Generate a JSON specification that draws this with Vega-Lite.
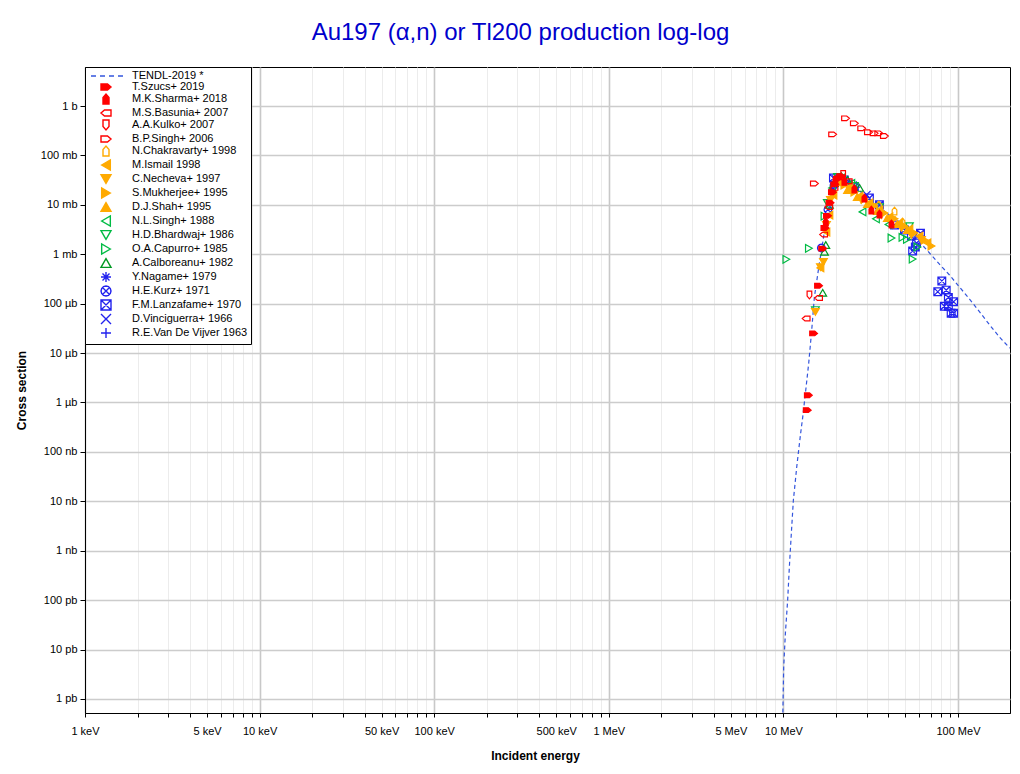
{
  "$schema": "https://vega.github.io/schema/vega-lite/v6.json",
  "width": 925,
  "height": 646,
  "autosize": {"type": "none"},
  "padding": {"left": 85, "top": 67, "right": 10, "bottom": 61},
  "background": "white",
  "title": {"text": "Au197 (α,n) or Tl200 production log-log", "font": "Liberation Sans", "fontSize": 24, "fontWeight": "normal", "color": "#0000cc", "offset": 22, "dx": -27},
  "config": {
    "view": {"stroke": "#000000", "strokeWidth": 1},
    "axis": {"labelFont": "Liberation Sans", "titleFont": "Liberation Sans", "labelFontSize": 11, "titleFontSize": 12, "titleFontWeight": "bold", "labelColor": "#000000", "titleColor": "#000000", "tickColor": "#000000", "domainColor": "#000000"}
  },
  "data": {"values": [
    {"s": "TENDL-2019 *", "e": 9.9, "v": 2e-13},
    {"s": "TENDL-2019 *", "e": 9.93, "v": 5.2e-13},
    {"s": "TENDL-2019 *", "e": 10.04, "v": 4.4e-12},
    {"s": "TENDL-2019 *", "e": 10.27, "v": 2.15e-11},
    {"s": "TENDL-2019 *", "e": 10.58, "v": 1.0e-10},
    {"s": "TENDL-2019 *", "e": 10.82, "v": 4.7e-10},
    {"s": "TENDL-2019 *", "e": 11.11, "v": 2.3e-9},
    {"s": "TENDL-2019 *", "e": 11.41, "v": 1.06e-8},
    {"s": "TENDL-2019 *", "e": 11.67, "v": 2.3e-8},
    {"s": "TENDL-2019 *", "e": 11.92, "v": 4.9e-8},
    {"s": "TENDL-2019 *", "e": 12.24, "v": 1.1e-7},
    {"s": "TENDL-2019 *", "e": 12.56, "v": 2.4e-7},
    {"s": "TENDL-2019 *", "e": 12.9, "v": 5.0e-7},
    {"s": "TENDL-2019 *", "e": 13.24, "v": 1.12e-6},
    {"s": "TENDL-2019 *", "e": 13.97, "v": 6.3e-6},
    {"s": "TENDL-2019 *", "e": 14.53, "v": 2.9e-5},
    {"s": "TENDL-2019 *", "e": 15.05, "v": 1.36e-4},
    {"s": "TENDL-2019 *", "e": 16.08, "v": 6.6e-4},
    {"s": "TENDL-2019 *", "e": 16.65, "v": 1.4e-3},
    {"s": "TENDL-2019 *", "e": 17.24, "v": 3.1e-3},
    {"s": "TENDL-2019 *", "e": 17.86, "v": 6.2e-3},
    {"s": "TENDL-2019 *", "e": 18.35, "v": 0.010},
    {"s": "TENDL-2019 *", "e": 19.1, "v": 0.020},
    {"s": "TENDL-2019 *", "e": 19.85, "v": 0.032},
    {"s": "TENDL-2019 *", "e": 20.9, "v": 0.038},
    {"s": "TENDL-2019 *", "e": 22.35, "v": 0.033},
    {"s": "TENDL-2019 *", "e": 23.9, "v": 0.0276},
    {"s": "TENDL-2019 *", "e": 27.3, "v": 0.019},
    {"s": "TENDL-2019 *", "e": 31.1, "v": 0.0131},
    {"s": "TENDL-2019 *", "e": 35.5, "v": 9.0e-3},
    {"s": "TENDL-2019 *", "e": 40.5, "v": 6.2e-3},
    {"s": "TENDL-2019 *", "e": 46.2, "v": 4.3e-3},
    {"s": "TENDL-2019 *", "e": 52.7, "v": 2.8e-3},
    {"s": "TENDL-2019 *", "e": 60.2, "v": 1.77e-3},
    {"s": "TENDL-2019 *", "e": 68.7, "v": 1.06e-3},
    {"s": "TENDL-2019 *", "e": 78.3, "v": 6.3e-4},
    {"s": "TENDL-2019 *", "e": 89.4, "v": 3.8e-4},
    {"s": "TENDL-2019 *", "e": 102, "v": 2.17e-4},
    {"s": "TENDL-2019 *", "e": 116.5, "v": 1.24e-4},
    {"s": "TENDL-2019 *", "e": 133, "v": 6.8e-5},
    {"s": "TENDL-2019 *", "e": 152, "v": 3.7e-5},
    {"s": "TENDL-2019 *", "e": 173, "v": 2.1e-5},
    {"s": "TENDL-2019 *", "e": 198, "v": 1.26e-5},

    {"s": "R.E.Van De Vijver 1963", "e": 26.2, "v": 0.0229},
    {"s": "R.E.Van De Vijver 1963", "e": 19.5, "v": 0.030},
    {"s": "D.Vinciguerra+ 1966", "e": 20.0, "v": 0.033},
    {"s": "D.Vinciguerra+ 1966", "e": 25.0, "v": 0.025},
    {"s": "D.Vinciguerra+ 1966", "e": 30.0, "v": 0.016},
    {"s": "F.M.Lanzafame+ 1970", "e": 19.35, "v": 0.035},
    {"s": "F.M.Lanzafame+ 1970", "e": 22.35, "v": 0.032},
    {"s": "F.M.Lanzafame+ 1970", "e": 25.5, "v": 0.023},
    {"s": "F.M.Lanzafame+ 1970", "e": 31.1, "v": 0.0137},
    {"s": "F.M.Lanzafame+ 1970", "e": 35.5, "v": 0.010},
    {"s": "F.M.Lanzafame+ 1970", "e": 43.3, "v": 3.9e-3},
    {"s": "F.M.Lanzafame+ 1970", "e": 49.4, "v": 3.1e-3},
    {"s": "F.M.Lanzafame+ 1970", "e": 54.1, "v": 2.33e-3},
    {"s": "F.M.Lanzafame+ 1970", "e": 57.9, "v": 1.69e-3},
    {"s": "F.M.Lanzafame+ 1970", "e": 55.0, "v": 1.16e-3},
    {"s": "F.M.Lanzafame+ 1970", "e": 61.0, "v": 2.65e-3},
    {"s": "F.M.Lanzafame+ 1970", "e": 57.0, "v": 1.4e-3},
    {"s": "F.M.Lanzafame+ 1970", "e": 80.8, "v": 2.87e-4},
    {"s": "F.M.Lanzafame+ 1970", "e": 76.6, "v": 1.74e-4},
    {"s": "F.M.Lanzafame+ 1970", "e": 85.6, "v": 1.88e-4},
    {"s": "F.M.Lanzafame+ 1970", "e": 88.1, "v": 1.34e-4},
    {"s": "F.M.Lanzafame+ 1970", "e": 94.4, "v": 1.09e-4},
    {"s": "F.M.Lanzafame+ 1970", "e": 83.5, "v": 8.9e-5},
    {"s": "F.M.Lanzafame+ 1970", "e": 88.1, "v": 8.9e-5},
    {"s": "F.M.Lanzafame+ 1970", "e": 91.4, "v": 6.4e-5},
    {"s": "F.M.Lanzafame+ 1970", "e": 94.4, "v": 6.4e-5},
    {"s": "H.E.Kurz+ 1971", "e": 16.5, "v": 1.34e-3},
    {"s": "H.E.Kurz+ 1971", "e": 18.0, "v": 8e-3},
    {"s": "H.E.Kurz+ 1971", "e": 19.5, "v": 0.025},
    {"s": "H.E.Kurz+ 1971", "e": 21.0, "v": 0.035},
    {"s": "Y.Nagame+ 1979", "e": 19.0, "v": 0.020},
    {"s": "Y.Nagame+ 1979", "e": 21.0, "v": 0.037},
    {"s": "Y.Nagame+ 1979", "e": 24.0, "v": 0.028},
    {"s": "A.Calboreanu+ 1982", "e": 16.8, "v": 1.66e-4},
    {"s": "A.Calboreanu+ 1982", "e": 17.2, "v": 1.12e-3},
    {"s": "A.Calboreanu+ 1982", "e": 17.5, "v": 1.54e-3},
    {"s": "A.Calboreanu+ 1982", "e": 18.35, "v": 0.010},
    {"s": "A.Calboreanu+ 1982", "e": 19.6, "v": 0.0276},
    {"s": "A.Calboreanu+ 1982", "e": 21.5, "v": 0.038},
    {"s": "A.Calboreanu+ 1982", "e": 23.3, "v": 0.032},
    {"s": "A.Calboreanu+ 1982", "e": 27.3, "v": 0.022},
    {"s": "O.A.Capurro+ 1985", "e": 10.4, "v": 7.9e-4},
    {"s": "O.A.Capurro+ 1985", "e": 14.0, "v": 1.32e-3},
    {"s": "O.A.Capurro+ 1985", "e": 17.2, "v": 5.9e-3},
    {"s": "O.A.Capurro+ 1985", "e": 41.6, "v": 2.13e-3},
    {"s": "O.A.Capurro+ 1985", "e": 48.1, "v": 2.2e-3},
    {"s": "O.A.Capurro+ 1985", "e": 51.0, "v": 2.0e-3},
    {"s": "O.A.Capurro+ 1985", "e": 58.6, "v": 1.4e-3},
    {"s": "O.A.Capurro+ 1985", "e": 55.0, "v": 8.0e-4},
    {"s": "H.D.Bhardwaj+ 1986", "e": 15.25, "v": 7.4e-5},
    {"s": "H.D.Bhardwaj+ 1986", "e": 17.86, "v": 0.0109},
    {"s": "H.D.Bhardwaj+ 1986", "e": 20.4, "v": 0.0366},
    {"s": "H.D.Bhardwaj+ 1986", "e": 25.5, "v": 0.024},
    {"s": "H.D.Bhardwaj+ 1986", "e": 35.5, "v": 9.0e-3},
    {"s": "H.D.Bhardwaj+ 1986", "e": 52.7, "v": 3.7e-3},
    {"s": "N.L.Singh+ 1988", "e": 19.0, "v": 0.022},
    {"s": "N.L.Singh+ 1988", "e": 21.5, "v": 0.035},
    {"s": "N.L.Singh+ 1988", "e": 24.5, "v": 0.027},
    {"s": "N.L.Singh+ 1988", "e": 28.4, "v": 7.2e-3},
    {"s": "N.L.Singh+ 1988", "e": 33.9, "v": 5.2e-3},
    {"s": "N.L.Singh+ 1988", "e": 40.0, "v": 4.0e-3},
    {"s": "D.J.Shah+ 1995", "e": 20.4, "v": 0.029},
    {"s": "D.J.Shah+ 1995", "e": 23.3, "v": 0.020},
    {"s": "D.J.Shah+ 1995", "e": 26.5, "v": 0.0144},
    {"s": "D.J.Shah+ 1995", "e": 30.3, "v": 0.0104},
    {"s": "D.J.Shah+ 1995", "e": 34.5, "v": 7.5e-3},
    {"s": "D.J.Shah+ 1995", "e": 39.4, "v": 5.4e-3},
    {"s": "D.J.Shah+ 1995", "e": 45.0, "v": 4.1e-3},
    {"s": "D.J.Shah+ 1995", "e": 51.3, "v": 3.1e-3},
    {"s": "S.Mukherjee+ 1995", "e": 22.35, "v": 0.0252},
    {"s": "S.Mukherjee+ 1995", "e": 25.5, "v": 0.0182},
    {"s": "S.Mukherjee+ 1995", "e": 29.1, "v": 0.0131},
    {"s": "S.Mukherjee+ 1995", "e": 33.2, "v": 9.5e-3},
    {"s": "S.Mukherjee+ 1995", "e": 37.9, "v": 6.8e-3},
    {"s": "S.Mukherjee+ 1995", "e": 43.3, "v": 5.2e-3},
    {"s": "S.Mukherjee+ 1995", "e": 49.4, "v": 3.7e-3},
    {"s": "S.Mukherjee+ 1995", "e": 56.4, "v": 2.7e-3},
    {"s": "S.Mukherjee+ 1995", "e": 64.4, "v": 1.94e-3},
    {"s": "S.Mukherjee+ 1995", "e": 70.5, "v": 1.47e-3},
    {"s": "C.Necheva+ 1997", "e": 15.25, "v": 6.8e-5},
    {"s": "C.Necheva+ 1997", "e": 16.3, "v": 5.5e-4},
    {"s": "C.Necheva+ 1997", "e": 16.96, "v": 7.0e-4},
    {"s": "C.Necheva+ 1997", "e": 17.64, "v": 3.9e-3},
    {"s": "C.Necheva+ 1997", "e": 18.6, "v": 0.0125},
    {"s": "C.Necheva+ 1997", "e": 21.5, "v": 0.0276},
    {"s": "C.Necheva+ 1997", "e": 24.5, "v": 0.020},
    {"s": "C.Necheva+ 1997", "e": 28.0, "v": 0.0125},
    {"s": "C.Necheva+ 1997", "e": 31.9, "v": 9.0e-3},
    {"s": "C.Necheva+ 1997", "e": 36.4, "v": 6.2e-3},
    {"s": "C.Necheva+ 1997", "e": 41.6, "v": 4.9e-3},
    {"s": "C.Necheva+ 1997", "e": 47.5, "v": 3.4e-3},
    {"s": "C.Necheva+ 1997", "e": 54.1, "v": 2.45e-3},
    {"s": "C.Necheva+ 1997", "e": 61.8, "v": 1.94e-3},
    {"s": "M.Ismail 1998", "e": 16.3, "v": 5.3e-4},
    {"s": "M.Ismail 1998", "e": 17.64, "v": 2.8e-3},
    {"s": "M.Ismail 1998", "e": 18.35, "v": 6.2e-3},
    {"s": "M.Ismail 1998", "e": 19.35, "v": 0.0158},
    {"s": "M.Ismail 1998", "e": 20.9, "v": 0.030},
    {"s": "M.Ismail 1998", "e": 23.9, "v": 0.023},
    {"s": "M.Ismail 1998", "e": 27.3, "v": 0.015},
    {"s": "M.Ismail 1998", "e": 31.1, "v": 0.011},
    {"s": "M.Ismail 1998", "e": 35.5, "v": 7.85e-3},
    {"s": "M.Ismail 1998", "e": 40.5, "v": 5.7e-3},
    {"s": "M.Ismail 1998", "e": 46.2, "v": 4.3e-3},
    {"s": "M.Ismail 1998", "e": 52.7, "v": 3.24e-3},
    {"s": "M.Ismail 1998", "e": 60.2, "v": 2.33e-3},
    {"s": "M.Ismail 1998", "e": 66.8, "v": 1.69e-3},
    {"s": "N.Chakravarty+ 1998", "e": 35.2, "v": 9.9e-3},
    {"s": "N.Chakravarty+ 1998", "e": 43.3, "v": 7.5e-3},
    {"s": "N.Chakravarty+ 1998", "e": 48.1, "v": 4.5e-3},
    {"s": "B.P.Singh+ 2006", "e": 15.05, "v": 0.027},
    {"s": "B.P.Singh+ 2006", "e": 19.15, "v": 0.267},
    {"s": "B.P.Singh+ 2006", "e": 22.7, "v": 0.564},
    {"s": "B.P.Singh+ 2006", "e": 25.5, "v": 0.446},
    {"s": "B.P.Singh+ 2006", "e": 28.1, "v": 0.354},
    {"s": "B.P.Singh+ 2006", "e": 30.7, "v": 0.294},
    {"s": "B.P.Singh+ 2006", "e": 33.1, "v": 0.28},
    {"s": "B.P.Singh+ 2006", "e": 35.2, "v": 0.28},
    {"s": "B.P.Singh+ 2006", "e": 37.9, "v": 0.247},
    {"s": "A.A.Kulko+ 2007", "e": 14.1, "v": 1.5e-4},
    {"s": "A.A.Kulko+ 2007", "e": 22.0, "v": 0.041},
    {"s": "M.S.Basunia+ 2007", "e": 13.5, "v": 5.0e-5},
    {"s": "M.S.Basunia+ 2007", "e": 15.9, "v": 1.3e-4},
    {"s": "M.S.Basunia+ 2007", "e": 17.0, "v": 2.5e-3},
    {"s": "M.S.Basunia+ 2007", "e": 18.2, "v": 9e-3},
    {"s": "M.S.Basunia+ 2007", "e": 19.5, "v": 0.022},
    {"s": "M.S.Basunia+ 2007", "e": 21.5, "v": 0.036},
    {"s": "M.S.Basunia+ 2007", "e": 23.5, "v": 0.030},
    {"s": "M.K.Sharma+ 2018", "e": 17.5, "v": 4.5e-3},
    {"s": "M.K.Sharma+ 2018", "e": 19.85, "v": 0.032},
    {"s": "M.K.Sharma+ 2018", "e": 22.35, "v": 0.030},
    {"s": "M.K.Sharma+ 2018", "e": 25.5, "v": 0.021},
    {"s": "M.K.Sharma+ 2018", "e": 29.1, "v": 0.0137},
    {"s": "M.K.Sharma+ 2018", "e": 31.9, "v": 7.85e-3},
    {"s": "M.K.Sharma+ 2018", "e": 35.5, "v": 6.5e-3},
    {"s": "M.K.Sharma+ 2018", "e": 41.6, "v": 4.1e-3},
    {"s": "T.Szucs+ 2019", "e": 13.7, "v": 7.0e-7},
    {"s": "T.Szucs+ 2019", "e": 13.9, "v": 1.4e-6},
    {"s": "T.Szucs+ 2019", "e": 14.9, "v": 2.5e-5},
    {"s": "T.Szucs+ 2019", "e": 15.9, "v": 2.3e-4},
    {"s": "T.Szucs+ 2019", "e": 16.8, "v": 1.3e-3},
    {"s": "T.Szucs+ 2019", "e": 17.3, "v": 3.4e-3},
    {"s": "T.Szucs+ 2019", "e": 17.9, "v": 6.0e-3},
    {"s": "T.Szucs+ 2019", "e": 18.5, "v": 0.011},
    {"s": "T.Szucs+ 2019", "e": 19.1, "v": 0.018},
    {"s": "T.Szucs+ 2019", "e": 19.7, "v": 0.026},
    {"s": "T.Szucs+ 2019", "e": 20.4, "v": 0.034},
    {"s": "T.Szucs+ 2019", "e": 21.3, "v": 0.038}
  ]},
  "layer": [
    {
      "transform": [{"filter": "datum.s === 'TENDL-2019 *'"}],
      "mark": {"type": "line", "strokeDash": [4, 3], "strokeWidth": 1.2, "color": "#3355dd", "clip": true},
      "encoding": {
        "x": {"field": "e", "type": "quantitative", "scale": {"type": "log", "domain": [0.001, 198.6], "nice": false}, "axis": {
          "title": "Incident energy", "titleX": 450, "titlePadding": 14,
          "values": [0.001,0.002,0.003,0.004,0.005,0.006,0.007,0.008,0.009,0.01,0.02,0.03,0.04,0.05,0.06,0.07,0.08,0.09,0.1,0.2,0.3,0.4,0.5,0.6,0.7,0.8,0.9,1,2,3,4,5,6,7,8,9,10,20,30,40,50,60,70,80,90,100],
          "labelExpr": "indexof([0.001,0.005,0.01,0.05,0.1,0.5,1,5,10,100], datum.value) >= 0 ? ['1 keV','5 keV','10 keV','50 keV','100 keV','500 keV','1 MeV','5 MeV','10 MeV','100 MeV'][indexof([0.001,0.005,0.01,0.05,0.1,0.5,1,5,10,100], datum.value)] : ''",
          "labelOverlap": false, "labelFlush": false, "labelPadding": 8, "tickSize": 4,
          "gridColor": {"condition": {"test": "indexof([0.001,0.01,0.1,1,10,100], datum.value) >= 0", "value": "#c8c8c8"}, "value": "#ececec"},
          "gridWidth": {"condition": {"test": "indexof([0.001,0.01,0.1,1,10,100], datum.value) >= 0", "value": 1.6}, "value": 1}
        }},
        "y": {"field": "v", "type": "quantitative", "scale": {"type": "log", "domain": [5.2e-13, 6.16], "nice": false}, "axis": {
          "title": "Cross section", "titlePadding": 12,
          "values": [1e-12,1e-11,1e-10,1e-9,1e-8,1e-7,1e-6,1e-5,1e-4,1e-3,1e-2,1e-1,1],
          "labelExpr": "['1 pb','10 pb','100 pb','1 nb','10 nb','100 nb','1 µb','10 µb','100 µb','1 mb','10 mb','100 mb','1 b'][indexof([1e-12,1e-11,1e-10,1e-9,1e-8,1e-7,1e-6,1e-5,1e-4,1e-3,1e-2,1e-1,1], datum.value)]",
          "labelOverlap": false, "labelFlush": false, "labelPadding": 3, "tickSize": 5,
          "gridColor": "#cccccc", "gridWidth": 1.6
        }}
      }
    },
    {
      "transform": [{"filter": "datum.s !== 'TENDL-2019 *'"}],
      "mark": {"type": "point", "size": 60, "strokeWidth": 1.2, "opacity": 1, "clip": true},
      "encoding": {
        "x": {"field": "e", "type": "quantitative", "scale": {"type": "log", "domain": [0.001, 198.6], "nice": false}},
        "y": {"field": "v", "type": "quantitative", "scale": {"type": "log", "domain": [5.2e-13, 6.16], "nice": false}},
        "shape": {"field": "s", "type": "nominal",
          "scale": {"domain": ["TENDL-2019 *","T.Szucs+ 2019","M.K.Sharma+ 2018","M.S.Basunia+ 2007","A.A.Kulko+ 2007","B.P.Singh+ 2006","N.Chakravarty+ 1998","M.Ismail 1998","C.Necheva+ 1997","S.Mukherjee+ 1995","D.J.Shah+ 1995","N.L.Singh+ 1988","H.D.Bhardwaj+ 1986","O.A.Capurro+ 1985","A.Calboreanu+ 1982","Y.Nagame+ 1979","H.E.Kurz+ 1971","F.M.Lanzafame+ 1970","D.Vinciguerra+ 1966","R.E.Van De Vijver 1963"],
            "range": ["M-3,0H-2M-1.2,0H-0.2M0.6,0H1.6M2.4,0H3.4","M-1,-0.6H0.3L1,0L0.3,0.6H-1Z","M-0.6,1V-0.3L0,-1L0.6,-0.3V1Z","M1,-0.6H-0.3L-1,0L-0.3,0.6H1Z","M-0.6,-1H0.6V0.3L0,1L-0.6,0.3Z","M-1,-0.6H0.3L1,0L0.3,0.6H-1Z","M-0.6,1V-0.3L0,-1L0.6,-0.3V1Z","triangle-left","triangle-down","triangle-right","triangle-up","triangle-left","triangle-down","triangle-right","triangle-up","M-1,0H1M0,-1V1M-0.7,-0.7L0.7,0.7M-0.7,0.7L0.7,-0.7","M1,0L0.866,0.5L0.5,0.866L0,1L-0.5,0.866L-0.866,0.5L-1,0L-0.866,-0.5L-0.5,-0.866L0,-1L0.5,-0.866L0.866,-0.5ZM-0.7,-0.7L0.7,0.7M-0.7,0.7L0.7,-0.7","M-1,-1H1V1H-1ZM-1,-1L1,1M-1,1L1,-1","M-1,-1L1,1M-1,1L1,-1","M-1,0H1M0,-1V1"]},
          "legend": {"title": null, "orient": "none", "legendX": 0, "legendY": 0, "padding": 3, "fillColor": "white", "strokeColor": "black", "symbolSize": 100, "symbolStrokeWidth": 1.4, "labelFont": "Liberation Sans", "labelFontSize": 11, "labelColor": "black", "rowPadding": -2.7, "symbolOffset": 12, "labelOffset": 20, "labelLimit": 300}},
        "fill": {"field": "s", "type": "nominal",
          "scale": {"domain": ["TENDL-2019 *","T.Szucs+ 2019","M.K.Sharma+ 2018","M.S.Basunia+ 2007","A.A.Kulko+ 2007","B.P.Singh+ 2006","N.Chakravarty+ 1998","M.Ismail 1998","C.Necheva+ 1997","S.Mukherjee+ 1995","D.J.Shah+ 1995","N.L.Singh+ 1988","H.D.Bhardwaj+ 1986","O.A.Capurro+ 1985","A.Calboreanu+ 1982","Y.Nagame+ 1979","H.E.Kurz+ 1971","F.M.Lanzafame+ 1970","D.Vinciguerra+ 1966","R.E.Van De Vijver 1963"],
            "range": ["transparent","#ff0000","#ff0000","transparent","transparent","transparent","transparent","#ffaa00","#ffaa00","#ffaa00","#ffaa00","transparent","transparent","transparent","transparent","transparent","transparent","transparent","transparent","transparent"]},
          "legend": {"title": null, "orient": "none", "legendX": 0, "legendY": 0, "padding": 3, "fillColor": "white", "strokeColor": "black", "symbolSize": 100, "symbolStrokeWidth": 1.4, "labelFont": "Liberation Sans", "labelFontSize": 11, "labelColor": "black", "rowPadding": -2.7, "symbolOffset": 12, "labelOffset": 20, "labelLimit": 300}},
        "stroke": {"field": "s", "type": "nominal",
          "scale": {"domain": ["TENDL-2019 *","T.Szucs+ 2019","M.K.Sharma+ 2018","M.S.Basunia+ 2007","A.A.Kulko+ 2007","B.P.Singh+ 2006","N.Chakravarty+ 1998","M.Ismail 1998","C.Necheva+ 1997","S.Mukherjee+ 1995","D.J.Shah+ 1995","N.L.Singh+ 1988","H.D.Bhardwaj+ 1986","O.A.Capurro+ 1985","A.Calboreanu+ 1982","Y.Nagame+ 1979","H.E.Kurz+ 1971","F.M.Lanzafame+ 1970","D.Vinciguerra+ 1966","R.E.Van De Vijver 1963"],
            "range": ["#3355dd","#ff0000","#ff0000","#ff0000","#ff0000","#ff0000","#ffaa00","#ffaa00","#ffaa00","#ffaa00","#ffaa00","#00bb44","#00bb44","#00bb44","#009922","#2222ee","#2222ee","#2222ee","#2222ee","#2222ee"]},
          "legend": {"title": null, "orient": "none", "legendX": 0, "legendY": 0, "padding": 3, "fillColor": "white", "strokeColor": "black", "symbolSize": 100, "symbolStrokeWidth": 1.4, "labelFont": "Liberation Sans", "labelFontSize": 11, "labelColor": "black", "rowPadding": -2.7, "symbolOffset": 12, "labelOffset": 20, "labelLimit": 300}}
      }
    }
  ]
}
